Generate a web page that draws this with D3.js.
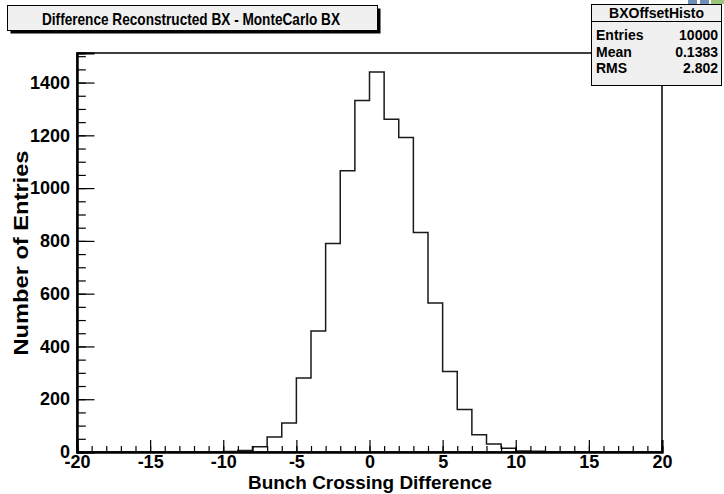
<!DOCTYPE html>
<html>
<head>
<meta charset="utf-8">
<script src="https://cdn.jsdelivr.net/npm/d3@7"></script>
<style>
  html, body { margin: 0; padding: 0; background: #ffffff; }
  svg { display: block; }
  text { font-family: "Liberation Sans", Arial, Helvetica, sans-serif; font-weight: bold; fill: #000; }
</style>
</head>
<body>
<svg id="chart" width="724" height="494"></svg>
<script>
// Histogram binning: 40 unit-wide bins from -20 to 20
const binLow = d3.range(-20, 20, 1);
const binCounts = [
  0, 0, 0, 0, 0, 0, 0, 0, 0, 0,
  2, 6, 20, 57, 110, 280, 459, 790, 1066, 1332,
  1440, 1261, 1192, 832, 565, 305, 161, 65, 30, 14,
  4, 3, 1, 0, 0, 0, 0, 0, 0, 0
];
const xTickValues = [-20, -15, -10, -5, 0, 5, 10, 15, 20];
const yTickValues = [0, 200, 400, 600, 800, 1000, 1200, 1400];
const statLabels = ["Entries", "Mean", "RMS"];
const statValues = ["10000", "0.1383", "2.802"];
const histName = "BXOffsetHisto";
const titleText = "Difference Reconstructed BX - MonteCarlo BX";
const xTitle = "Bunch Crossing Difference";
const yTitle = "Number of Entries";

const svg = d3.select("#chart");
const frame = { left: 77, right: 662, top: 53, bottom: 452 };

const x = d3.scaleLinear().domain([-20, 20]).range([frame.left, frame.right]);
const yMax = d3.max(binCounts) * 1.05;
const y = d3.scaleLinear().domain([0, yMax]).range([frame.bottom, frame.top]);

// frame
svg.append("rect")
  .attr("x", frame.left).attr("y", frame.top)
  .attr("width", frame.right - frame.left).attr("height", frame.bottom - frame.top)
  .attr("fill", "#ffffff").attr("stroke", "#000").attr("stroke-width", 1.5);

// histogram outline as a step path
const pts = [[x(-20), y(0)]];
binLow.forEach((lo, i) => {
  pts.push([x(lo), y(binCounts[i])]);
  pts.push([x(lo + 1), y(binCounts[i])]);
});
pts.push([x(20), y(0)]);
svg.append("path")
  .attr("d", d3.line()(pts))
  .attr("fill", "none")
  .attr("stroke", "#1a1a1a")
  .attr("stroke-width", 1.5);

const labelFont = "18px";

// x axis: major every 5, minor every 1, ticks pointing up
const xAxisMinor = d3.axisBottom(x).tickValues(d3.range(-20, 21, 1)).tickSize(-6).tickFormat("");
const xAxisMajor = d3.axisBottom(x).tickValues(xTickValues).tickSize(-12).tickFormat(d3.format("d"));
const gxMinor = svg.append("g").attr("transform", `translate(0,${frame.bottom})`).call(xAxisMinor);
const gx = svg.append("g").attr("transform", `translate(0,${frame.bottom})`).call(xAxisMajor);
[gxMinor, gx].forEach(g => {
  g.select(".domain").attr("stroke", "#000").attr("stroke-width", 2);
  g.selectAll(".tick line").attr("stroke", "#000").attr("stroke-width", 1.2);
});
gx.selectAll(".tick text")
  .attr("y", 3).attr("dy", "0.71em")
  .style("font-size", labelFont).style("font-family", "Liberation Sans, Arial, sans-serif").style("font-weight", "bold")
  .text(d => d3.format("d")(d).replace("−", "-"));

// y axis: major every 200, minor every 50, ticks pointing right
const yAxisMinor = d3.axisLeft(y).tickValues(d3.range(0, 1501, 50)).tickSize(-8.8).tickFormat("");
const yAxisMajor = d3.axisLeft(y).tickValues(yTickValues).tickSize(-17.5).tickFormat(d3.format("d"));
const gyMinor = svg.append("g").attr("transform", `translate(${frame.left},0)`).call(yAxisMinor);
const gy = svg.append("g").attr("transform", `translate(${frame.left},0)`).call(yAxisMajor);
[gyMinor, gy].forEach(g => {
  g.select(".domain").attr("stroke", "#000").attr("stroke-width", 2);
  g.selectAll(".tick line").attr("stroke", "#000").attr("stroke-width", 1.2);
});
gy.selectAll(".tick text")
  .attr("x", -7)
  .style("font-size", labelFont).style("font-family", "Liberation Sans, Arial, sans-serif").style("font-weight", "bold");

// axis titles
svg.append("text")
  .attr("x", 370).attr("y", 489)
  .attr("text-anchor", "middle")
  .attr("textLength", 244).attr("lengthAdjust", "spacingAndGlyphs")
  .style("font-size", "18px")
  .text(xTitle);
svg.append("text")
  .attr("transform", `translate(28,253) rotate(-90)`)
  .attr("text-anchor", "middle")
  .attr("textLength", 205).attr("lengthAdjust", "spacingAndGlyphs")
  .style("font-size", "21px")
  .text(yTitle);

// title pave with shadow
function pave(x0, y0, w, h) {
  svg.append("rect").attr("x", x0 + 3).attr("y", y0 + 3).attr("width", w).attr("height", h).attr("fill", "#000");
  svg.append("rect").attr("x", x0).attr("y", y0).attr("width", w).attr("height", h)
    .attr("fill", "#f0f0f0").attr("stroke", "#000").attr("stroke-width", 1);
}
pave(7.5, 5.5, 370, 25);
svg.append("text")
  .attr("x", 191).attr("y", 25)
  .attr("text-anchor", "middle")
  .attr("textLength", 298).attr("lengthAdjust", "spacingAndGlyphs")
  .style("font-size", "16.5px")
  .text(titleText);

// statistics box
const sb = { x: 591.5, y: 4.5, w: 130, h: 81 };
svg.append("rect").attr("x", sb.x).attr("y", sb.y).attr("width", sb.w).attr("height", sb.h)
  .attr("fill", "#f0f0f0").attr("stroke", "#000").attr("stroke-width", 1);
svg.append("line").attr("x1", sb.x).attr("x2", sb.x + sb.w).attr("y1", 21.5).attr("y2", 21.5)
  .attr("stroke", "#000").attr("stroke-width", 1);
svg.append("text")
  .attr("x", sb.x + sb.w / 2).attr("y", 17.5)
  .attr("text-anchor", "middle")
  .style("font-size", "14px")
  .text(histName);
const rowY = d3.scalePoint().domain(statLabels).range([40, 73]);
statLabels.forEach((lab, i) => {
  svg.append("text").attr("x", 596).attr("y", rowY(lab)).style("font-size", "14px").text(lab);
  svg.append("text").attr("x", 718).attr("y", rowY(lab)).attr("text-anchor", "end").style("font-size", "14px").text(statValues[i]);
});

// small corner icon strip above the statistics box
const icon = svg.append("g");
icon.append("rect").attr("x", 688).attr("y", 0).attr("width", 9).attr("height", 4).attr("fill", "#6f8fb8");
icon.append("rect").attr("x", 700).attr("y", 0).attr("width", 9).attr("height", 4).attr("fill", "#6f8fb8");
icon.append("rect").attr("x", 711).attr("y", 0).attr("width", 13).attr("height", 4).attr("fill", "#9cc47a");
</script>
</body>
</html>
